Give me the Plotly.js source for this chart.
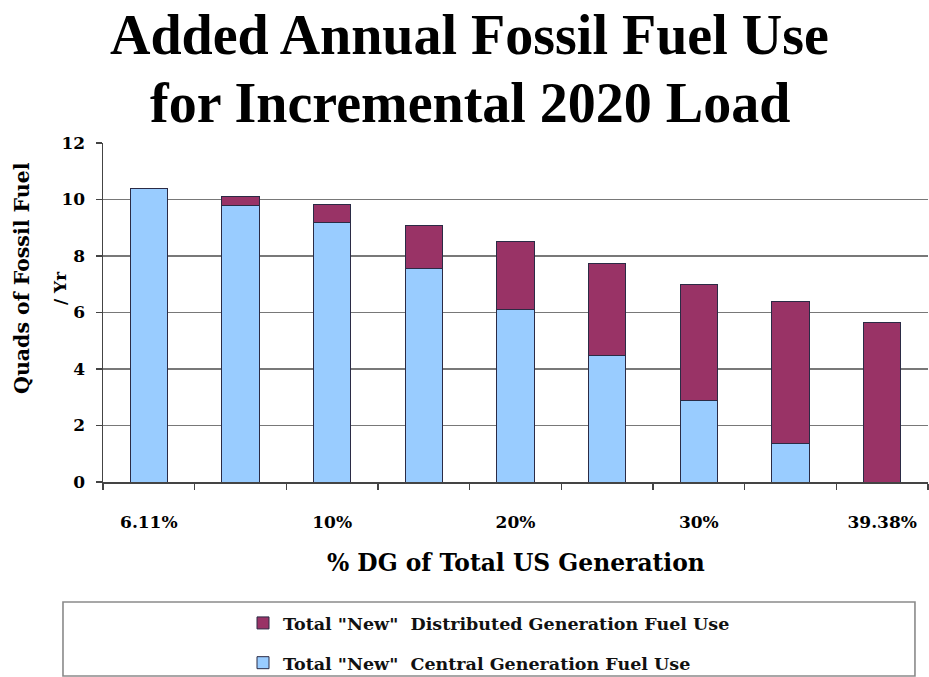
<!DOCTYPE html>
<html>
<head>
<meta charset="utf-8">
<script src="https://cdn.plot.ly/plotly-3.0.1.min.js"></script>
<style>
  html, body { margin: 0; padding: 0; background: #ffffff; }
  #chart { width: 929px; height: 677px; }
</style>
</head>
<body>
<div id="chart"></div>
<script>
// Scenario index along the x axis (one bar per DG penetration case)
const scenarios = [1, 2, 3, 4, 5, 6, 7, 8, 9];
// Quads of fossil fuel per year
const centralFuel = [10.4, 9.78, 9.18, 7.57, 6.1, 4.48, 2.88, 1.38, 0];
const distributedFuel = [0, 0.32, 0.66, 1.52, 2.41, 3.27, 4.12, 5.01, 5.66];
// Labelled x positions and their text
const xTickVals = [1, 3, 5, 7, 9];
const xTickText = ['6.11%', '10%', '20%', '30%', '39.38%'];
const yTickVals = [0, 2, 4, 6, 8, 10, 12];

const titleFont = '"Liberation Serif", "Times New Roman", serif';
const textFont = '"DejaVu Serif", serif';
const outline = { color: '#2b2b45', width: 1 };

const traces = [
  {
    type: 'bar',
    name: 'Total "New"  Central Generation Fuel Use',
    x: scenarios,
    y: centralFuel,
    marker: { color: '#99ccff', line: outline },
    legendgroup: 'central',
    legendrank: 2,
    hoverinfo: 'y'
  },
  {
    type: 'bar',
    name: 'Total "New"  Distributed Generation Fuel Use',
    x: scenarios,
    y: distributedFuel,
    marker: { color: '#993366', line: outline },
    legendgroup: 'dg',
    legendrank: 1,
    hoverinfo: 'y'
  }
];

const layout = {
  width: 929,
  height: 677,
  paper_bgcolor: '#ffffff',
  plot_bgcolor: '#ffffff',
  margin: { l: 103, r: 1, t: 143, b: 195, autoexpand: false },
  barmode: 'stack',
  bargap: 0.595,
  font: { family: textFont, color: '#000000' },
  xaxis: {
    range: [0.5, 9.5],
    tickmode: 'array',
    tickvals: xTickVals,
    ticktext: xTickText,
    ticks: '',
    showgrid: false,
    zeroline: false,
    showline: true,
    linecolor: '#444444',
    linewidth: 1.5,
    ticklabelstandoff: 24,
    tickfont: { family: textFont, size: 17, weight: 'bold', color: '#000' },
    minor: { tick0: 0.5, dtick: 1, ticks: 'outside', ticklen: 6, tickcolor: '#444444', tickwidth: 1.2, showgrid: false }
  },
  yaxis: {
    range: [0, 12],
    tickmode: 'array',
    tickvals: yTickVals,
    ticks: 'outside',
    ticklen: 6,
    tickcolor: '#444444',
    tickwidth: 1.2,
    showline: true,
    linecolor: '#444444',
    linewidth: 1.5,
    showgrid: true,
    gridcolor: '#787878',
    gridwidth: 1.3,
    zeroline: false,
    ticklabelstandoff: 7,
    tickfont: { family: textFont, size: 17, weight: 'bold', color: '#000' }
  },
  showlegend: true,
  legend: {
    x: 0.1697,
    xanchor: 'left',
    y: -0.363,
    yanchor: 'top',
    traceorder: 'grouped',
    bgcolor: 'rgba(0,0,0,0)',
    borderwidth: 0,
    tracegroupgap: 14,
    font: { family: textFont, size: 17.5, weight: 'bold', color: '#111' }
  },
  shapes: [
    {
      type: 'rect', xref: 'paper', yref: 'paper',
      x0: -0.0485, x1: 0.9842, y0: -0.354, y1: -0.5723,
      line: { color: '#8a8a8a', width: 1.6 },
      fillcolor: 'rgba(0,0,0,0)',
      layer: 'below'
    }
  ],
  annotations: [
    {
      text: 'Added Annual Fossil Fuel Use',
      xref: 'paper', yref: 'paper', x: 0.4448, y: 1.318,
      xanchor: 'center', yanchor: 'middle', showarrow: false,
      font: { family: titleFont, size: 56, weight: 'bold', color: '#000' }
    },
    {
      text: 'for Incremental 2020 Load',
      xref: 'paper', yref: 'paper', x: 0.4448, y: 1.118,
      xanchor: 'center', yanchor: 'middle', showarrow: false,
      font: { family: titleFont, size: 56, weight: 'bold', color: '#000' }
    },
    {
      text: 'Quads of Fossil Fuel',
      xref: 'paper', yref: 'paper', x: -0.0982, y: 0.6018,
      xanchor: 'center', yanchor: 'middle', showarrow: false, textangle: -90,
      font: { family: textFont, size: 20.5, weight: 'bold', color: '#000' }
    },
    {
      text: '/ Yr',
      xref: 'paper', yref: 'paper', x: -0.0521, y: 0.572,
      xanchor: 'center', yanchor: 'middle', showarrow: false, textangle: -90,
      font: { family: textFont, size: 17, weight: 'bold', color: '#000' }
    },
    {
      text: '% DG of Total US Generation',
      xref: 'paper', yref: 'paper', x: 0.5006, y: -0.24,
      xanchor: 'center', yanchor: 'middle', showarrow: false,
      font: { family: textFont, size: 23.4, weight: 'bold', color: '#000' }
    }
  ]
};

Plotly.newPlot('chart', traces, layout, { displayModeBar: false, staticPlot: true });
</script>
</body>
</html>
